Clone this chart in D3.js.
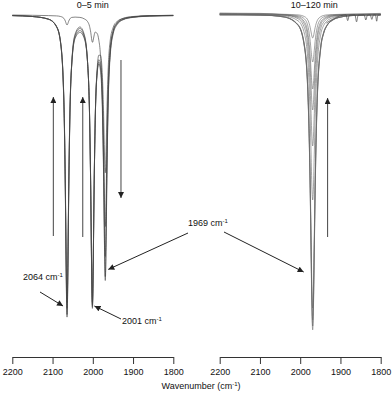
<!DOCTYPE html>
<html>
<head>
<meta charset="utf-8">
<script src="https://cdn.jsdelivr.net/npm/d3@7"></script>
<style>
  body { margin: 0; background: #fff; }
  svg { display: block; font-family: "Liberation Sans", Arial, sans-serif; }
</style>
</head>
<body>
<div class="chart"></div>
<script>
// wavenumber grids (cm-1) and absorbance-like depths
const leftWn = [2200, 2150, 2110, 2090, 2080, 2072, 2068, 2066, 2065, 2064, 2063, 2062, 2060, 2057, 2052, 2044, 2032, 2021, 2013, 2008, 2005, 2003, 2002, 2001, 2000, 1999, 1997, 1994, 1989, 1985, 1981, 1976, 1973, 1971, 1970, 1969, 1968, 1967, 1965, 1962, 1957, 1949, 1940, 1925, 1900, 1860, 1800];

const left1 = [0.002, 0.005, 0.014, 0.040, 0.094, 0.287, 0.617, 0.869, 0.969, 1.007, 0.970, 0.870, 0.618, 0.347, 0.159, 0.078, 0.058, 0.079, 0.158, 0.340, 0.602, 0.845, 0.941, 0.978, 0.942, 0.847, 0.607, 0.349, 0.176, 0.134, 0.134, 0.209, 0.338, 0.460, 0.508, 0.526, 0.505, 0.454, 0.326, 0.187, 0.088, 0.040, 0.022, 0.012, 0.006, 0.003, 0.001];
const left2 = [0.002, 0.005, 0.014, 0.039, 0.093, 0.284, 0.611, 0.861, 0.960, 0.998, 0.961, 0.862, 0.613, 0.344, 0.158, 0.074, 0.052, 0.075, 0.159, 0.340, 0.599, 0.840, 0.936, 0.972, 0.937, 0.843, 0.606, 0.352, 0.185, 0.149, 0.160, 0.270, 0.447, 0.615, 0.681, 0.705, 0.678, 0.609, 0.435, 0.248, 0.115, 0.051, 0.028, 0.014, 0.007, 0.003, 0.002];
const left3 = [0.002, 0.005, 0.014, 0.039, 0.092, 0.279, 0.599, 0.844, 0.941, 0.978, 0.941, 0.845, 0.601, 0.338, 0.155, 0.068, 0.045, 0.070, 0.158, 0.338, 0.595, 0.833, 0.928, 0.965, 0.930, 0.837, 0.603, 0.353, 0.189, 0.157, 0.174, 0.303, 0.508, 0.701, 0.777, 0.805, 0.774, 0.695, 0.496, 0.281, 0.130, 0.056, 0.030, 0.015, 0.007, 0.003, 0.002];
const left4 = [0.002, 0.005, 0.014, 0.038, 0.090, 0.274, 0.587, 0.827, 0.922, 0.958, 0.922, 0.828, 0.589, 0.331, 0.153, 0.064, 0.040, 0.066, 0.158, 0.336, 0.590, 0.826, 0.920, 0.957, 0.922, 0.830, 0.599, 0.352, 0.192, 0.163, 0.185, 0.330, 0.556, 0.769, 0.854, 0.885, 0.851, 0.764, 0.545, 0.308, 0.141, 0.061, 0.033, 0.016, 0.008, 0.004, 0.002];
const left5 = [0.000, 0.001, 0.002, 0.003, 0.005, 0.011, 0.021, 0.029, 0.032, 0.033, 0.032, 0.029, 0.021, 0.013, 0.008, 0.007, 0.008, 0.013, 0.022, 0.038, 0.059, 0.079, 0.087, 0.091, 0.090, 0.084, 0.070, 0.057, 0.062, 0.084, 0.133, 0.297, 0.533, 0.752, 0.839, 0.872, 0.839, 0.751, 0.532, 0.295, 0.130, 0.052, 0.026, 0.011, 0.005, 0.002, 0.001];

const rightWn = [2200, 2100, 2040, 2005, 1989, 1980, 1975, 1973, 1971, 1970, 1969, 1968, 1967, 1965, 1963, 1958, 1949, 1942, 1933, 1919, 1899, 1869, 1800];

const right1 = [-0.003, -0.002, 0.001, 0.003, 0.009, 0.023, 0.046, 0.060, 0.074, 0.078, 0.080, 0.078, 0.074, 0.060, 0.046, 0.023, 0.009, 0.005, 0.003, 0.002, 0.001, 0.000, -0.002];
const right2 = [0.000, 0.000, 0.002, 0.006, 0.017, 0.046, 0.092, 0.121, 0.148, 0.157, 0.160, 0.157, 0.148, 0.121, 0.092, 0.046, 0.017, 0.010, 0.006, 0.003, 0.002, 0.001, 0.000];
const right3 = [0.004, 0.004, 0.004, 0.009, 0.027, 0.072, 0.144, 0.189, 0.231, 0.245, 0.250, 0.245, 0.231, 0.189, 0.144, 0.072, 0.027, 0.016, 0.009, 0.005, 0.004, 0.003, 0.003];
const right4 = [0.000, 0.001, 0.003, 0.012, 0.035, 0.092, 0.184, 0.241, 0.296, 0.314, 0.320, 0.314, 0.296, 0.241, 0.184, 0.092, 0.035, 0.020, 0.012, 0.006, 0.003, 0.002, 0.001];
const right5 = [-0.002, -0.001, 0.003, 0.016, 0.048, 0.127, 0.253, 0.332, 0.407, 0.431, 0.440, 0.431, 0.407, 0.332, 0.253, 0.127, 0.048, 0.028, 0.016, 0.008, 0.004, 0.002, 0.001];
const right6 = [0.001, 0.002, 0.006, 0.023, 0.068, 0.179, 0.357, 0.467, 0.574, 0.608, 0.620, 0.608, 0.574, 0.467, 0.357, 0.179, 0.068, 0.039, 0.023, 0.012, 0.006, 0.003, 0.001];
const right7 = [0.003, 0.004, 0.009, 0.036, 0.107, 0.282, 0.564, 0.739, 0.907, 0.960, 0.980, 0.960, 0.907, 0.739, 0.564, 0.282, 0.107, 0.062, 0.036, 0.019, 0.010, 0.005, 0.004];
const right8 = [0.001, 0.003, 0.010, 0.037, 0.111, 0.294, 0.588, 0.769, 0.944, 1.000, 1.020, 1.000, 0.944, 0.769, 0.588, 0.294, 0.111, 0.064, 0.037, 0.020, 0.010, 0.005, 0.002];
const right9 = [0.001, 0.003, 0.010, 0.038, 0.113, 0.300, 0.599, 0.784, 0.962, 1.019, 1.040, 1.019, 0.962, 0.784, 0.599, 0.300, 0.113, 0.066, 0.038, 0.020, 0.010, 0.005, 0.002];
const right10 = [0.001, 0.003, 0.010, 0.038, 0.115, 0.303, 0.607, 0.794, 0.974, 1.032, 1.053, 1.032, 0.974, 0.794, 0.607, 0.303, 0.115, 0.066, 0.038, 0.020, 0.010, 0.005, 0.002];

// water-vapour spikes on the right end of the 10-120 min baseline
const noiseWn = [1935, 1900, 1886, 1882, 1878, 1864, 1860, 1856, 1841, 1837, 1833, 1826, 1822, 1818, 1813, 1810, 1807, 1800];
const noiseVal = [0.030, 0.006, 0.003, 0.022, 0.004, 0.003, 0.026, 0.004, 0.003, 0.020, 0.004, 0.003, 0.018, 0.003, 0.003, 0.024, 0.004, 0.003];

const tickValues = [2200, 2100, 2000, 1900, 1800];
const panelTitles = ["0–5 min", "10–120 min"];

const leftSeries = [left1, left2, left3, left4, left5];
const rightSeries = [right1, right2, right3, right4, right5, right6, right7, right8, right9, right10];

const W = 392, H = 399;
const axisY = 357;

const svg = d3.select(".chart").append("svg")
  .attr("width", W).attr("height", H);

const xL = d3.scaleLinear().domain([2200, 1800]).range([12.3, 173.3]);
const xR = d3.scaleLinear().domain([2200, 1800]).range([219.7, 380.7]);
const yL = d3.scaleLinear().domain([0, 1]).range([15, 315]);
const yR = d3.scaleLinear().domain([0, 1]).range([14, 314]);

function drawSpectra(series, wn, x, y, color, w) {
  const line = d3.line()
    .x((d, i) => x(wn[i]))
    .y(d => y(d))
    .curve(d3.curveMonotoneX);
  svg.append("g").selectAll("path")
    .data(series)
    .join("path")
    .attr("d", line)
    .attr("fill", "none")
    .attr("stroke", color)
    .attr("stroke-width", w);
}

drawSpectra(leftSeries, leftWn, xL, yL, "#444", 0.65);
drawSpectra(rightSeries, rightWn, xR, yR, "#666", 0.6);
drawSpectra([noiseVal], noiseWn, xR, yR, "#444", 0.7);

// axes
[xL, xR].forEach(x => {
  const g = svg.append("g")
    .attr("transform", `translate(0,${axisY})`)
    .call(d3.axisBottom(x).tickValues(tickValues).tickSize(7).tickSizeOuter(0).tickPadding(5).tickFormat(d3.format("d")));
  g.select(".domain").attr("stroke", "#333");
  g.selectAll(".tick line").attr("stroke", "#333");
  g.selectAll("text").attr("font-size", 9).attr("fill", "#111").attr("font-family", null);
});

// titles
svg.append("text").attr("x", xL(2000)).attr("y", 8).attr("text-anchor", "middle")
  .attr("font-size", 9).attr("fill", "#111").text(panelTitles[0]);
svg.append("text").attr("x", xR(1965)).attr("y", 8).attr("text-anchor", "middle")
  .attr("font-size", 9).attr("fill", "#111").text(panelTitles[1]);

function cmLabel(x, y, num, anchor) {
  const t = svg.append("text").attr("x", x).attr("y", y)
    .attr("font-size", 9).attr("fill", "#111").attr("text-anchor", anchor || "start");
  t.append("tspan").text(num + " cm");
  t.append("tspan").attr("font-size", 6).attr("dy", -3.5).text("-1");
  return t;
}

cmLabel(23, 280, "2064");
cmLabel(122, 324, "2001");
cmLabel(208, 226, "1969", "middle");

const xt = svg.append("text").attr("x", 201).attr("y", 389).attr("text-anchor", "middle")
  .attr("font-size", 9).attr("fill", "#111");
xt.append("tspan").text("Wavenumber (cm");
xt.append("tspan").attr("font-size", 6).attr("dy", -3.5).text("-1");
xt.append("tspan").attr("dy", 3.5).text(")");

// arrows
const defs = svg.append("defs");
defs.append("marker")
  .attr("id", "head")
  .attr("viewBox", "0 0 10 10")
  .attr("refX", 10).attr("refY", 5)
  .attr("markerWidth", 7).attr("markerHeight", 6)
  .attr("markerUnits", "userSpaceOnUse")
  .attr("orient", "auto")
  .append("path").attr("d", "M0,0L10,5L0,10Z").attr("fill", "#222");

function arrow(x1, y1, x2, y2, color, w) {
  svg.append("line")
    .attr("x1", x1).attr("y1", y1).attr("x2", x2).attr("y2", y2)
    .attr("stroke", color).attr("stroke-width", w)
    .attr("marker-end", "url(#head)");
}

// vertical trend arrows
arrow(xL(2098), yL(0.737), xL(2098), yL(0.273), "#555", 1.1);
arrow(xL(2025), yL(0.74), xL(2025), yL(0.273), "#555", 1.1);
arrow(xL(1930), yL(0.15), xL(1930), yL(0.61), "#555", 1.1);
arrow(xR(1932), yR(0.743), xR(1932), yR(0.28), "#555", 1.1);

// band labels
arrow(40, 292, xL(2064) - 4, yL(0.97), "#222", 1);
arrow(121, 319, xL(2001) + 2, yL(0.97), "#222", 1);
arrow(188, 233, xL(1969) + 3, yL(0.848), "#222", 1);
arrow(224, 232, xR(1969) - 9, yR(0.86), "#222", 1);
</script>
</body>
</html>
